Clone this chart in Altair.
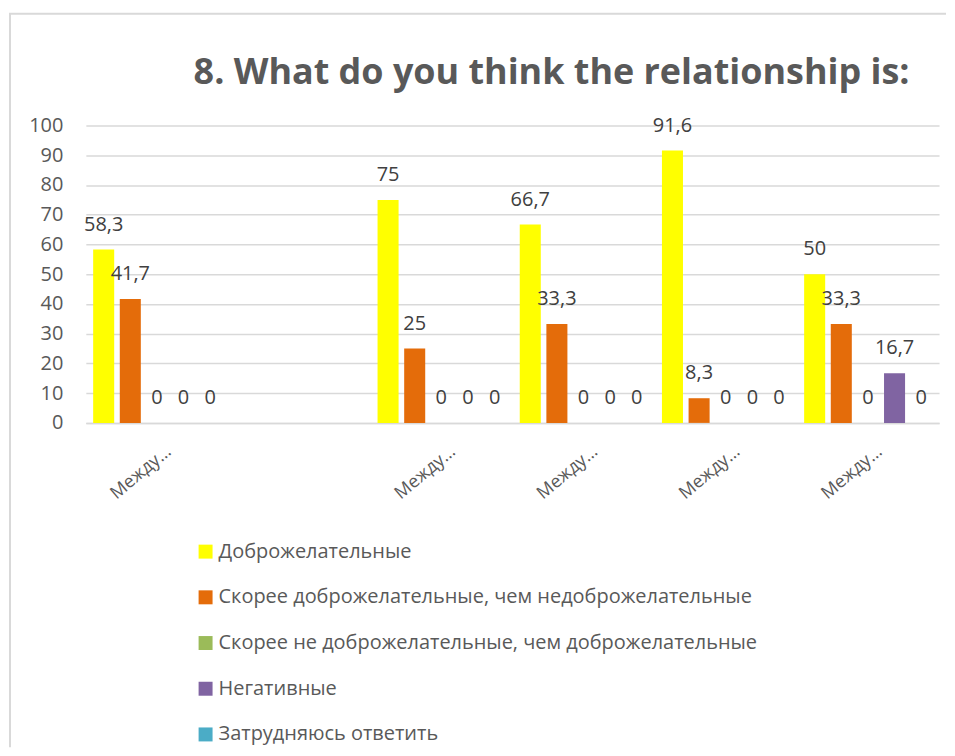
import altair as alt
import pandas as pd

# ---- data ----
cat_ids = ["g1", "g2", "g3", "g4", "g5", "g6"]
tick_labels = ["Между…", "", "Между…", "Между…", "Между…", "Между…"]

series = [
    "Доброжелательные",
    "Скорее доброжелательные, чем недоброжелательные",
    "Скорее не доброжелательные, чем доброжелательные",
    "Негативные",
    "Затрудняюсь ответить",
]
colors = ["#FFFF00", "#E46C0A", "#9BBB59", "#8064A2", "#4BACC6"]

s_dobro = [58.3, None, 75, 66.7, 91.6, 50]
s_skoree_dobro = [41.7, None, 25, 33.3, 8.3, 33.3]
s_skoree_ne = [0, None, 0, 0, 0, 0]
s_negat = [0, None, 0, 0, 0, 16.7]
s_zatr = [0, None, 0, 0, 0, 0]

all_series = [s_dobro, s_skoree_dobro, s_skoree_ne, s_negat, s_zatr]

title_text = "8. What do you think the relationship is:"

rows = []
for name, vals in zip(series, all_series):
    for cid, v in zip(cat_ids, vals):
        if v is None:
            continue
        rows.append({"cat": cid, "series": name, "value": v,
                     "label": f"{v:g}".replace(".", ",")})
df = pd.DataFrame(rows)

label_expr = "[{}][indexof([{}], datum.value)]".format(
    ",".join(f"'{t}'" for t in tick_labels),
    ",".join(f"'{c}'" for c in cat_ids),
)

TXT = "#595959"
GRID = "#D9D9D9"
FONT = "Open Sans"

x_enc = alt.X(
    "cat:N",
    scale=alt.Scale(domain=cat_ids, paddingInner=0, paddingOuter=0),
    axis=alt.Axis(
        title=None, labelAngle=-40, labelAlign="right", labelBaseline="middle",
        labelExpr=label_expr, labelFontSize=18, labelFont=FONT, labelColor=TXT,
        labelOffset=12, labelPadding=26, ticks=False, tickSize=0,
        domainColor=GRID, domainWidth=1.5, grid=False, labelLimit=200,
    ),
)
xoff_enc = alt.XOffset(
    "series:N",
    scale=alt.Scale(domain=series, paddingInner=0.21, paddingOuter=0.275),
)
y_enc = alt.Y(
    "value:Q",
    scale=alt.Scale(domain=[0, 100], nice=False),
    axis=alt.Axis(
        title=None, values=list(range(0, 101, 10)), labelFontSize=20,
        labelFont=FONT, labelColor=TXT, labelPadding=23, ticks=False,
        domain=False, gridColor=GRID, gridWidth=1.5,
    ),
)

bars = alt.Chart(df).mark_bar().encode(
    x=x_enc,
    xOffset=xoff_enc,
    y=y_enc,
    color=alt.Color(
        "series:N",
        scale=alt.Scale(domain=series, range=colors),
        legend=alt.Legend(
            title=None, orient="none", legendX=110, legendY=417, direction="vertical",
            symbolType="square", symbolSize=196, symbolStrokeWidth=0,
            labelFontSize=20, labelFont=FONT, labelColor=TXT, labelOffset=3,
            rowPadding=25.8, padding=0, labelLimit=700,
        ),
    ),
)

labels = alt.Chart(df).mark_text(
    fontSize=20, font=FONT, color="#404040", baseline="middle", align="center", dy=-25
).encode(x=x_enc, xOffset=xoff_enc, y=y_enc, text="label:N")

single = pd.DataFrame({"t": [title_text]})
title_mark = alt.Chart(single).mark_text(
    fontSize=36, font=FONT, fontWeight="bold", color=TXT,
    align="left", baseline="alphabetic",
).encode(x=alt.value(108), y=alt.value(-42), text="t:N")

frame_left = alt.Chart(single).mark_rule(color=GRID, strokeWidth=2).encode(
    x=alt.value(-76), y=alt.value(-112), y2=alt.value(623)
)
frame_top = alt.Chart(single).mark_rule(color=GRID, strokeWidth=2).encode(
    x=alt.value(-77), x2=alt.value(862), y=alt.value(-112)
)

chart = alt.layer(bars, labels, title_mark, frame_left, frame_top).properties(
    width=855,
    height=298,
    padding={"left": 0, "top": 4, "right": 0, "bottom": 0},
).configure_view(stroke=None)

chart.save("out.html", embed_options={"renderer": "svg", "actions": False})
